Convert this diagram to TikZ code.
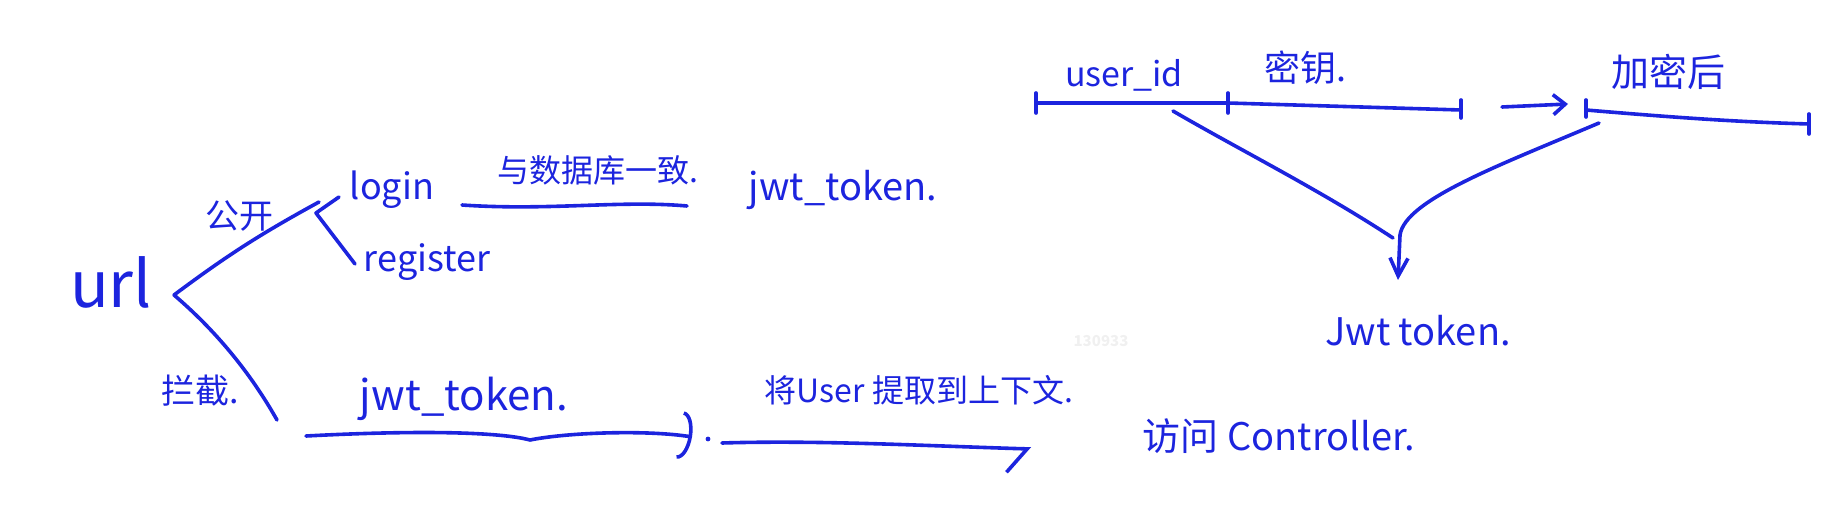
\documentclass[tikz,border=0pt]{standalone}
\usepackage{fontspec}
\newfontfamily\cjk{Noto Sans CJK SC}
\usetikzlibrary{positioning}
\usetikzlibrary{arrows.meta}
\definecolor{pen}{RGB}{28,36,222}
\tikzset{every picture/.style={line width=1.8pt},ink/.style={draw=pen,line cap=round,line join=round},txt/.style={text=pen,inner sep=0pt,font=\cjk\fontsize{#1}{#1}\selectfont},txt/.default=18pt}

\begin{document}
\begin{tikzpicture}[x=0.5pt,y=-0.5pt]
\useasboundingbox (0,0) rectangle (1830,507);
% left part
\node (url) [txt=32pt] at (111,282) {url};
\coordinate (fork) at (174,295);
\node (pub) [txt=17pt] at (239,216) {公开};
\node (login) [txt=18pt] at (392,190) {login};
\node (reg) [txt=18pt, below of = login, node distance = 36pt, xshift = 17.5pt] {register};
\node (same) [txt=16pt] at (598,170) {与数据库一致.};
\node (jwta) [txt=19pt] at (843,190) {jwt\_token.};
\node (icpt) [txt=17pt] at (200,391) {拦截.};
\node (jwtb) [txt=21pt] at (464,399) {jwt\_token.};
\node (ctx) [txt=16pt] at (919,390) {将User 提取到上下文.};
\node (ctrl) [txt=19pt] at (1279,436) {访问 Controller.};
\node (mark) [font=\cjk\bfseries\fontsize{7.5}{7.5}\selectfont, text=gray!12] at (1101,341) {130933};
\coordinate (brtip) at (316,213);
\coordinate (lgo) at (462,205);
\coordinate (lgi) at (687,206);
\coordinate (lowend) at (277,420);
\coordinate (a1s) at (306,436);
\coordinate (a1e) at (692,437);
\coordinate (a2s) at (722,443);
\coordinate (a2e) at (1031,449);
\draw[ink] (fork) to[bend left=4] (319,202);
\draw[ink] (339,197) -- (brtip) -- (355,264);
\draw[ink] (lgo) .. controls (550,211) and (620,200) .. (lgi);
\draw[ink] (fork) .. controls (215,330) and (250,372) .. (lowend);
\draw[ink,-{Arc Barb[length=6pt,width=24pt]}] (a1s) .. controls (420,430) and (500,432) .. (530,440) .. controls (570,432) and (650,430) .. (a1e);
\fill[pen] (708,439) circle (1.2pt);
\draw[ink,-{Straight Barb[right,length=10pt,width=24pt]}] (a2s) .. controls (820,440) and (930,446) .. (a2e);
% right part
\node (uid) [txt=17pt] at (1124,75) {user\_id};
\node (key) [txt=18pt] at (1305,68) {密钥.};
\node (enc) [txt=19pt] at (1668,72) {加密后};
\node (jwtc) [txt=19pt] at (1418,331) {Jwt token.};
\coordinate (ua) at (1036,103);
\coordinate (ub) at (1228,103);
\coordinate (uc) at (1461,110);
\coordinate (ea) at (1586,110);
\coordinate (eb) at (1809,124);
\coordinate (uidfoot) at (1173,111);
\coordinate (encfoot) at (1599,123);
\coordinate (vtip) at (1398,280);
\draw[ink] (ua) -- (ub) -- (uc);
\draw[ink] ([yshift=5pt]ua) -- ([yshift=-5pt]ua);
\draw[ink] ([yshift=5pt]ub) -- ([yshift=-5pt]ub);
\draw[ink] ([yshift=5pt]uc) -- ([yshift=-4pt]uc);
\draw[ink,-{Straight Barb[length=6pt,width=10pt]}] (1502,107) -- (1568,104);
\draw[ink] (ea) .. controls (1680,118) and (1740,122) .. (eb);
\draw[ink] ([yshift=5pt]ea) -- ([yshift=-3.5pt]ea);
\draw[ink] ([yshift=5pt]eb) -- ([yshift=-5pt]eb);
\draw[ink] (uidfoot) .. controls (1240,150) and (1320,190) .. (1393,238);
\draw[ink,-{Straight Barb[length=9pt,width=9pt]}] (encfoot) .. controls (1500,165) and (1405,200) .. (1400,235) -- (vtip);
\end{tikzpicture}
\end{document}
